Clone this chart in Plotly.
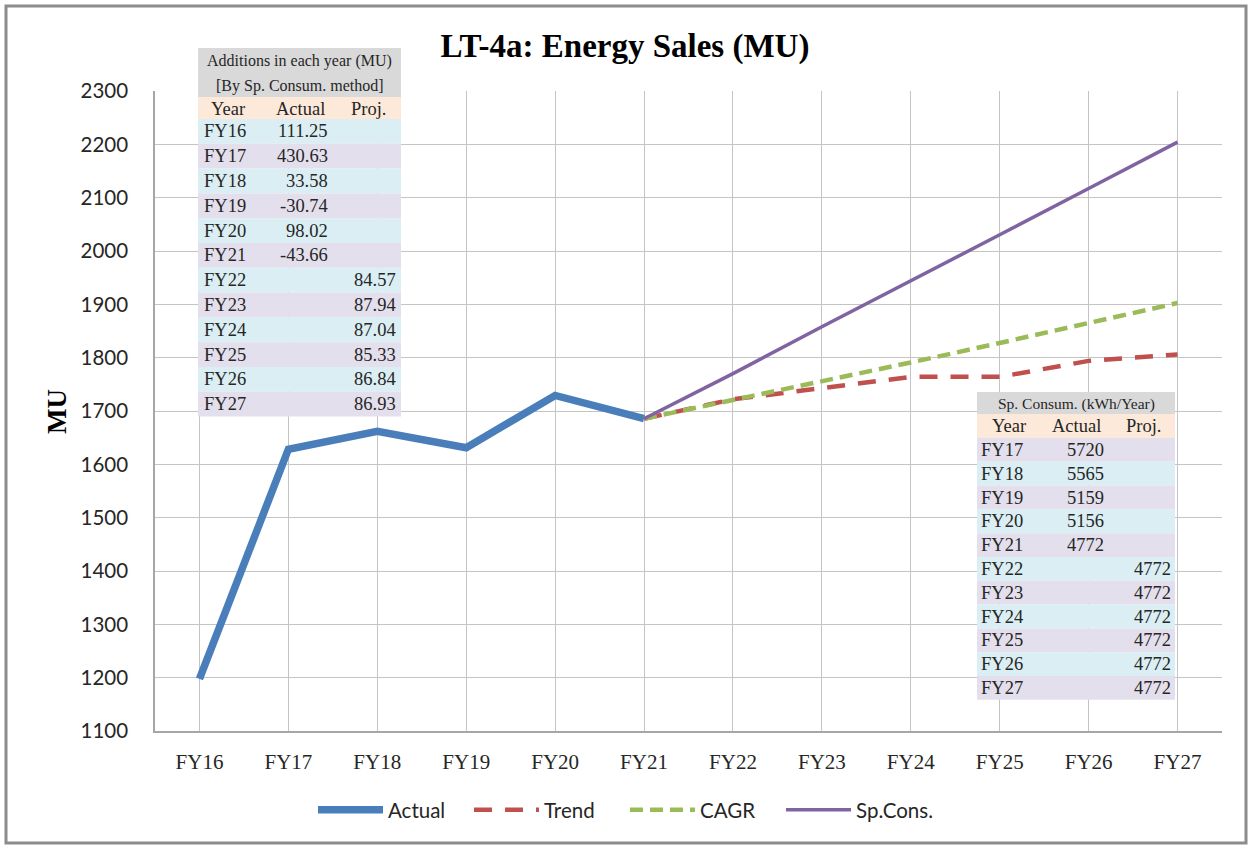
import plotly.graph_objects as go

# ---------------- data ----------------
years = ["FY16", "FY17", "FY18", "FY19", "FY20", "FY21",
         "FY22", "FY23", "FY24", "FY25", "FY26", "FY27"]
actual = [1197.7, 1628.3, 1661.9, 1631.2, 1729.2, 1685.5,
          None, None, None, None, None, None]
trend = [None, None, None, None, None, 1685.5,
         1722.0, 1743.0, 1764.0, 1764.0, 1794.0, 1806.0]
cagr = [None, None, None, None, None, 1685.5,
        1720.0, 1755.0, 1791.0, 1827.5, 1864.5, 1902.5]
sp_cons = [None, None, None, None, None, 1685.5,
           1770.1, 1858.0, 1945.1, 2030.4, 2117.2, 2204.2]

# table 1: additions in each year (MU)
add_years = ["FY16", "FY17", "FY18", "FY19", "FY20", "FY21",
             "FY22", "FY23", "FY24", "FY25", "FY26", "FY27"]
add_actual = ["111.25", "430.63", "33.58", "-30.74", "98.02", "-43.66",
              "", "", "", "", "", ""]
add_proj = ["", "", "", "", "", "",
            "84.57", "87.94", "87.04", "85.33", "86.84", "86.93"]

# table 2: specific consumption (kWh/Year)
sc_years = ["FY17", "FY18", "FY19", "FY20", "FY21",
            "FY22", "FY23", "FY24", "FY25", "FY26", "FY27"]
sc_actual = ["5720", "5565", "5159", "5156", "4772",
             "", "", "", "", "", ""]
sc_proj = ["", "", "", "", "",
           "4772", "4772", "4772", "4772", "4772", "4772"]

# ---------------- layout helpers ----------------
W, H = 1250, 846
L, R, T, B = 155, 1222, 91, 731


def px(x):
    return (x - L) / (R - L)


def py(y):
    return (B - y) / (B - T)


xi = list(range(len(years)))

fig = go.Figure()
fig.add_trace(go.Scatter(x=xi, y=actual, name="Actual", mode="lines",
                         line=dict(color="#4A7EBB", width=7.5)))
fig.add_trace(go.Scatter(x=xi, y=trend, name="Trend", mode="lines",
                         line=dict(color="#C0504D", width=4.5, dash="18px,13px")))
fig.add_trace(go.Scatter(x=xi, y=cagr, name="CAGR", mode="lines",
                         line=dict(color="#9BBB59", width=4.5, dash="13px,7px")))
fig.add_trace(go.Scatter(x=xi, y=sp_cons, name="Sp.Cons.", mode="lines",
                         line=dict(color="#8064A2", width=3.5)))

shapes = []
annos = []
TXT = "#262626"
SERIF = "Liberation Serif"
GRAY, PEACH, BLUE, LAV = "#D9D9D9", "#FDE9D9", "#DAEEF3", "#E4DFEC"


def rect(x0, y0, x1, y1, color):
    shapes.append(dict(type="rect", xref="paper", yref="paper",
                       x0=px(x0), x1=px(x1), y0=py(y1), y1=py(y0),
                       fillcolor=color, line=dict(width=0), layer="above"))


def text(x, y, s, size, anchor="center", bold=False):
    annos.append(dict(xref="paper", yref="paper", x=px(x), y=py(y),
                      text=("<b>%s</b>" % s) if bold else s, showarrow=False,
                      xanchor=anchor, yanchor="middle",
                      font=dict(family=SERIF, size=size, color=TXT)))


def row_color(yr):
    return BLUE if int(yr[2:]) % 2 == 0 else LAV


# ---- table 1 ----
t1x0, t1x1 = 198, 401
rect(t1x0, 48, t1x1, 97, GRAY)
text((t1x0 + t1x1) / 2, 61, "Additions in each year (MU)", 16)
text((t1x0 + t1x1) / 2, 86, "[By Sp. Consum. method]", 16)
rect(t1x0, 97, t1x1, 119, PEACH)
text(228, 109, "Year", 18.5)
text(300, 109, "Actual", 18.5)
text(368, 109, "Proj.", 18.5)
rh = 24.8
for i, yr in enumerate(add_years):
    y0 = 119 + rh * i
    rect(t1x0, y0, t1x1, y0 + rh, row_color(yr))
    yc = y0 + rh / 2
    text(202, yc, yr, 18.5, "left")
    if add_actual[i]:
        text(330, yc, add_actual[i], 18.5, "right")
    if add_proj[i]:
        text(398, yc, add_proj[i], 18.5, "right")

# ---- table 2 ----
t2x0, t2x1 = 977, 1175
rect(t2x0, 392, t2x1, 414, GRAY)
text((t2x0 + t2x1) / 2, 404, "Sp. Consum. (kWh/Year)", 15.5)
rect(t2x0, 414, t2x1, 438, PEACH)
text(1009, 426, "Year", 18.5)
text(1076, 426, "Actual", 18.5)
text(1143, 426, "Proj.", 18.5)
rh2 = 23.8
for i, yr in enumerate(sc_years):
    y0 = 438 + rh2 * i
    rect(t2x0, y0, t2x1, y0 + rh2, row_color(yr))
    yc = y0 + rh2 / 2
    text(979, yc, yr, 18.5, "left")
    if sc_actual[i]:
        text(1106, yc, sc_actual[i], 18.5, "right")
    if sc_proj[i]:
        text(1173, yc, sc_proj[i], 18.5, "right")

# y-axis title
annos.append(dict(xref="paper", yref="paper", x=px(57), y=py(412),
                  text="<b>MU</b>", showarrow=False, textangle=-90,
                  xanchor="center", yanchor="middle",
                  font=dict(family=SERIF, size=27, color="#000000")))

# outer border
shapes.append(dict(type="rect", xref="paper", yref="paper",
                   x0=px(6), x1=px(1246), y0=py(843), y1=py(6),
                   line=dict(color="#8C8C8C", width=3), layer="above"))

fig.update_layout(
    width=W, height=H,
    margin=dict(l=L, r=W - R, t=T, b=H - B),
    paper_bgcolor="white", plot_bgcolor="white",
    title=dict(text="<b>LT-4a: Energy Sales (MU)</b>", xref="container",
               x=0.5, xanchor="center", yref="container",
               y=1 - 45 / H, yanchor="middle",
               font=dict(family=SERIF, size=33, color="#000000")),
    xaxis=dict(range=[-0.5, 11.5], tickvals=xi, ticktext=years,
               showgrid=True, gridcolor="#C4C4C4", gridwidth=1.3,
               showline=True, linecolor="#A6A6A6", linewidth=1.5,
               zeroline=False, ticks="", ticklabelstandoff=11,
               tickfont=dict(family=SERIF, size=21, color=TXT)),
    yaxis=dict(range=[1100, 2300], dtick=100, tick0=1100,
               showgrid=True, gridcolor="#C4C4C4", gridwidth=1.3,
               showline=True, linecolor="#A6A6A6", linewidth=1.5,
               zeroline=False, ticks="", ticklabelstandoff=21,
               tickfont=dict(family="Lato", size=20.5, color=TXT)),
    legend=dict(orientation="h", xref="container", yref="container",
                x=0.5, xanchor="center", y=(H - 810) / H, yanchor="middle",
                font=dict(family="Lato", size=20.5, color=TXT),
                bgcolor="rgba(0,0,0,0)", itemwidth=65, entrywidth=76),
    shapes=shapes,
    annotations=annos,
    showlegend=True,
)

fig.write_html("out.html",
               config={"displayModeBar": False},
               post_script="document.body.style.margin='0px';"
                           "document.body.style.overflow='hidden';")
